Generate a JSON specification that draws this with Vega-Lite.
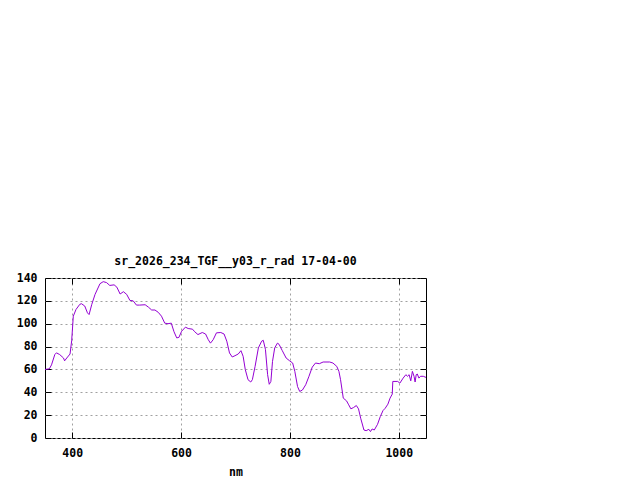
{
  "$schema": "https://vega.github.io/schema/vega-lite/v6.json",
  "autosize": {"type": "none"},
  "padding": {"left": 45, "top": 278, "right": 214, "bottom": 42},
  "width": 381,
  "height": 160,
  "background": "white",
  "title": {
    "text": "sr_2026_234_TGF__y03_r_rad 17-04-00",
    "font": "DejaVu Sans Mono",
    "fontSize": 11.5,
    "fontWeight": "bold",
    "color": "black",
    "anchor": "middle",
    "baseline": "alphabetic",
    "offset": -4
  },
  "config": {
    "view": {"stroke": "black", "strokeWidth": 1},
    "axis": {
      "labelFont": "DejaVu Sans Mono",
      "labelFontSize": 11.5,
      "labelFontWeight": "bold",
      "labelColor": "black",
      "titleFont": "DejaVu Sans Mono",
      "titleFontSize": 11.5,
      "titleFontWeight": "bold",
      "titleColor": "black",
      "domain": false,
      "tickColor": "black",
      "tickSize": -6,
      "gridColor": "#a0a0a0",
      "gridDash": [2, 3],
      "gridWidth": 1,
      "gridOpacity": 1
    }
  },
  "data": {
    "values": [
      {"nm": 350, "v": 60}, {"nm": 358, "v": 60.5}, {"nm": 362, "v": 64},
      {"nm": 368, "v": 73}, {"nm": 371, "v": 74.5}, {"nm": 377, "v": 73},
      {"nm": 384, "v": 70}, {"nm": 386, "v": 67.5}, {"nm": 390, "v": 70},
      {"nm": 396, "v": 73.5}, {"nm": 399, "v": 85}, {"nm": 402, "v": 106.6},
      {"nm": 407, "v": 112.5}, {"nm": 414, "v": 117}, {"nm": 417, "v": 117.5},
      {"nm": 423, "v": 115.5}, {"nm": 428, "v": 109.5}, {"nm": 431, "v": 108},
      {"nm": 436, "v": 117}, {"nm": 442, "v": 125.7}, {"nm": 451, "v": 135},
      {"nm": 457, "v": 136.8}, {"nm": 463, "v": 136}, {"nm": 469, "v": 133.5},
      {"nm": 477, "v": 134}, {"nm": 482, "v": 132}, {"nm": 488, "v": 126},
      {"nm": 494, "v": 128}, {"nm": 500, "v": 125.7}, {"nm": 506, "v": 120.4},
      {"nm": 512, "v": 120}, {"nm": 518, "v": 116.3}, {"nm": 524, "v": 116.3},
      {"nm": 534, "v": 116.6}, {"nm": 540, "v": 114.5}, {"nm": 546, "v": 112},
      {"nm": 552, "v": 112}, {"nm": 558, "v": 110}, {"nm": 564, "v": 106.6},
      {"nm": 570, "v": 100.5}, {"nm": 576, "v": 100}, {"nm": 582, "v": 100.5},
      {"nm": 587, "v": 93}, {"nm": 592, "v": 87.6}, {"nm": 596, "v": 88},
      {"nm": 601, "v": 93.4}, {"nm": 608, "v": 97}, {"nm": 613, "v": 95.8},
      {"nm": 621, "v": 95.2}, {"nm": 625, "v": 93}, {"nm": 631, "v": 90.5},
      {"nm": 639, "v": 92.3}, {"nm": 645, "v": 91}, {"nm": 650, "v": 86},
      {"nm": 654, "v": 83}, {"nm": 659, "v": 86}, {"nm": 665, "v": 92},
      {"nm": 673, "v": 92.3}, {"nm": 679, "v": 91}, {"nm": 684, "v": 84.7},
      {"nm": 689, "v": 74.4}, {"nm": 694, "v": 70.9}, {"nm": 699, "v": 72},
      {"nm": 705, "v": 73.5}, {"nm": 710, "v": 76.4}, {"nm": 714, "v": 71.5},
      {"nm": 718, "v": 59.8}, {"nm": 723, "v": 51}, {"nm": 728, "v": 49},
      {"nm": 731, "v": 51}, {"nm": 736, "v": 62.7}, {"nm": 742, "v": 78.8},
      {"nm": 748, "v": 84.7}, {"nm": 751, "v": 85.5}, {"nm": 755, "v": 77.6},
      {"nm": 759, "v": 55.4}, {"nm": 762, "v": 47}, {"nm": 765, "v": 49.5},
      {"nm": 768, "v": 67}, {"nm": 772, "v": 78.8}, {"nm": 777, "v": 83},
      {"nm": 780, "v": 82}, {"nm": 786, "v": 76.4}, {"nm": 793, "v": 70},
      {"nm": 799, "v": 67.7}, {"nm": 805, "v": 65.6}, {"nm": 809, "v": 58.3},
      {"nm": 814, "v": 45}, {"nm": 818, "v": 40.7}, {"nm": 823, "v": 42},
      {"nm": 829, "v": 46.6}, {"nm": 835, "v": 54}, {"nm": 841, "v": 62},
      {"nm": 847, "v": 65.6}, {"nm": 854, "v": 65}, {"nm": 861, "v": 66.5},
      {"nm": 873, "v": 66.5}, {"nm": 879, "v": 65.6}, {"nm": 886, "v": 62.7},
      {"nm": 890, "v": 58.3}, {"nm": 893, "v": 51}, {"nm": 898, "v": 34.9},
      {"nm": 904, "v": 32.5}, {"nm": 908, "v": 29}, {"nm": 912, "v": 25.5},
      {"nm": 917, "v": 26.7}, {"nm": 922, "v": 28.4}, {"nm": 926, "v": 25.5},
      {"nm": 930, "v": 17.3}, {"nm": 936, "v": 7}, {"nm": 940, "v": 6.4},
      {"nm": 945, "v": 7.6}, {"nm": 948, "v": 5.6}, {"nm": 951, "v": 7.9},
      {"nm": 955, "v": 7}, {"nm": 961, "v": 12}, {"nm": 966, "v": 18.7},
      {"nm": 971, "v": 24}, {"nm": 975, "v": 26}, {"nm": 980, "v": 29.6},
      {"nm": 984, "v": 34.9}, {"nm": 988, "v": 38.4}, {"nm": 989, "v": 49.5},
      {"nm": 998, "v": 49.5}, {"nm": 1002, "v": 48}, {"nm": 1008, "v": 52.4},
      {"nm": 1013, "v": 55.4}, {"nm": 1016, "v": 54}, {"nm": 1019, "v": 55.4},
      {"nm": 1022, "v": 50}, {"nm": 1025, "v": 58.3}, {"nm": 1028, "v": 54},
      {"nm": 1030, "v": 49}, {"nm": 1032, "v": 55.4}, {"nm": 1034, "v": 56},
      {"nm": 1037, "v": 52.4}, {"nm": 1040, "v": 54}, {"nm": 1045, "v": 54},
      {"nm": 1050, "v": 53}
    ]
  },
  "layer": [
    {
      "mark": {"type": "line", "color": "#9400d3", "strokeWidth": 1, "clip": true},
      "encoding": {
        "x": {
          "field": "nm", "type": "quantitative",
          "scale": {"domain": [350, 1050], "nice": false, "zero": false},
          "axis": {"values": [400, 600, 800, 1000], "format": "d", "title": "nm", "labelPadding": 15, "titlePadding": 8, "labelFlush": false}
        },
        "y": {
          "field": "v", "type": "quantitative",
          "scale": {"domain": [0, 140], "nice": false},
          "axis": {"values": [0, 20, 40, 60, 80, 100, 120, 140], "title": null, "labelPadding": 14}
        }
      }
    },
    {
      "mark": {"type": "line", "opacity": 0},
      "encoding": {
        "x": {
          "field": "nm", "type": "quantitative",
          "axis": {"orient": "top", "values": [400, 600, 800, 1000], "labels": false, "grid": false, "title": null}
        },
        "y": {
          "field": "v", "type": "quantitative",
          "axis": {"orient": "right", "values": [0, 20, 40, 60, 80, 100, 120, 140], "labels": false, "grid": false, "title": null}
        }
      }
    }
  ],
  "resolve": {"axis": {"x": "independent", "y": "independent"}}
}
